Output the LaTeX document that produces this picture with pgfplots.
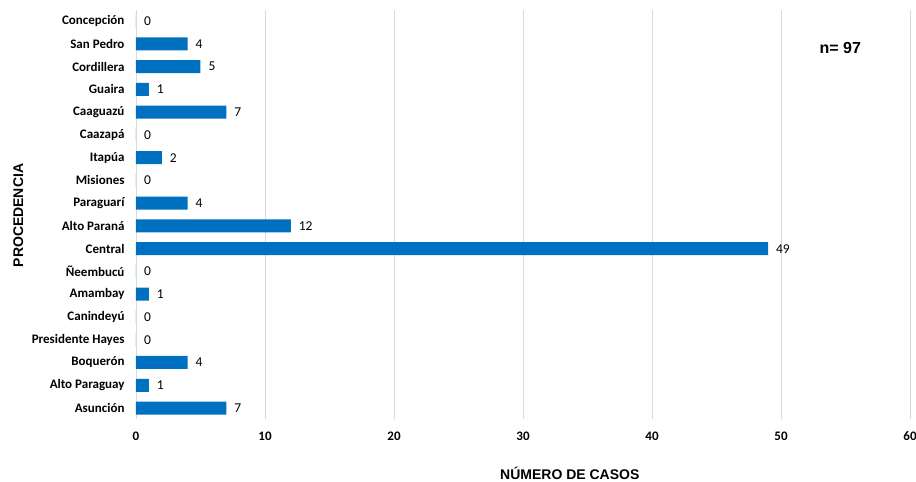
\documentclass[border=0pt]{standalone}
\usepackage{fontspec}
\setmainfont{Carlito}
\newfontfamily\arial{Liberation Sans}
\usepackage{pgfplots}
\pgfplotsset{compat=1.18}
\definecolor{barblue}{HTML}{0070C0}
\begin{document}
\begin{tikzpicture}
\begin{axis}[
 scale only axis, width=774pt, height=409.7pt,
 xbar, bar width=13pt,
 xmin=0, xmax=60, ymin=-0.5, ymax=17.5,
 xtick={0,10,...,60}, ytick={0,...,17},
 yticklabels={Asunción, Alto Paraguay, Boquerón, Presidente Hayes, Canindeyú, Amambay, Ñeembucú, Central, Alto Paraná, Paraguarí, Misiones, Itapúa, Caazapá, Caaguazú, Guaira, Cordillera, San Pedro, Concepción},
 xmajorgrids, grid style={draw=black!15, line width=0.8pt},
 axis line style={draw=none}, major tick length=0pt,
 tick label style={font=\bfseries\fontsize{13}{15}\selectfont},
 /pgf/number format/assume math mode=true,
 xticklabel style={yshift=-9pt}, yticklabel style={xshift=-8pt},
 nodes near coords,
 nodes near coords style={font=\fontsize{13.5}{15}\selectfont, black, anchor=west, xshift=4.5pt},
 xlabel={NÚMERO DE CASOS},
 ylabel={PROCEDENCIA},
 x label style={font=\arial\bfseries\fontsize{14}{16}\selectfont, at={(axis description cs:0.5605,-0.132)}, anchor=center},
 y label style={font=\arial\bfseries\fontsize{14}{16}\selectfont, at={(axis description cs:-0.152,0.4976)}, anchor=center},
]
\addplot[fill=barblue, draw=none] coordinates {(7,0) (1,1) (4,2) (0,3) (0,4) (1,5) (0,6) (49,7) (12,8) (4,9) (0,10) (2,11) (0,12) (7,13) (1,14) (5,15) (4,16) (0,17)};
\node[font=\arial\bfseries\fontsize{16}{18}\selectfont] at (axis cs:54.6,15.8) {n= 97};
\coordinate (sw) at (rel axis cs:0,0);
\end{axis}
\pgfresetboundingbox
\path ([shift={(-136pt,-62.6pt)}]sw) rectangle ++(916pt,482pt);
\end{tikzpicture}
\end{document}
